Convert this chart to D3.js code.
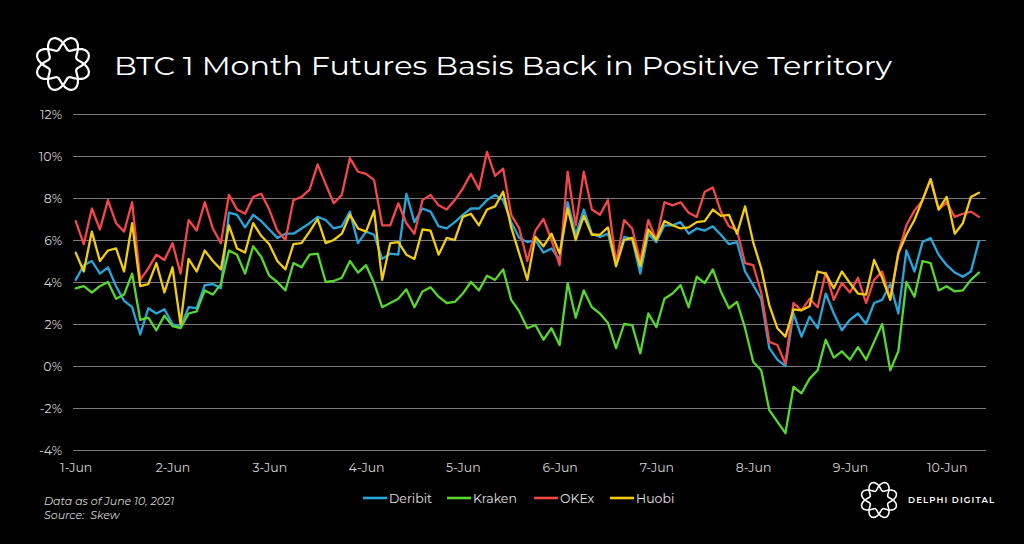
<!DOCTYPE html>
<html><head><meta charset="utf-8">
<script src="https://cdn.jsdelivr.net/npm/d3@7"></script>
<style>
html,body{margin:0;padding:0;background:#000;}
svg{display:block;}
</style></head>
<body>
<svg id="c" width="1024" height="544"></svg>
<script>
// ---- data (2-hour samples from 1-Jun 00:00) ----
const hoursStart = 0, hoursStep = 2;
const xTickLabels = ["1-Jun","2-Jun","3-Jun","4-Jun","5-Jun","6-Jun","7-Jun","8-Jun","9-Jun","10-Jun"];
const yTicks = [-4,-2,0,2,4,6,8,10,12];
const seriesNames = ["Deribit","Kraken","OKEx","Huobi"];
const seriesColors = ["#27a6dc","#58d72c","#f4474a","#f1cd0e"];

const deribit = [4.1,4.8,5.0,4.4,4.7,3.8,3.1,2.8,1.5,2.75,2.5,2.7,2.0,1.85,2.8,2.75,3.85,3.9,3.7,7.3,7.2,6.6,7.2,6.9,6.5,6.1,6.3,6.3,
6.55,6.8,7.1,6.95,6.55,6.65,7.35,5.85,6.4,6.25,5.1,5.35,5.3,8.2,6.85,7.5,7.35,6.65,6.55,6.85,7.2,7.5,7.5,7.9,8.15,7.9,6.85,6.1,5.9,
6.0,5.4,5.6,5.05,7.8,6.25,7.45,6.3,6.15,6.3,4.8,6.15,6.05,4.4,6.3,5.9,6.7,6.7,6.85,6.3,6.55,6.45,6.65,6.25,5.8,5.9,4.5,3.85,
3.2,0.85,0.3,0.0,2.5,1.4,2.35,1.8,3.45,2.5,1.7,2.2,2.5,2.0,3.0,3.15,3.9,2.5,5.5,4.5,5.9,6.1,5.3,4.8,4.45,4.25,4.5,5.95];

const kraken = [3.7,3.8,3.5,3.8,4.0,3.2,3.4,4.4,2.2,2.3,1.7,2.4,1.9,1.8,2.5,2.6,3.6,3.4,3.9,5.5,5.3,4.4,5.7,5.2,4.3,4.0,3.6,4.9,
4.7,5.3,5.35,4.0,4.05,4.2,5.0,4.45,4.8,3.95,2.8,3.0,3.2,3.65,2.8,3.55,3.75,3.3,3.0,3.05,3.45,4.0,3.6,4.3,4.1,4.6,3.15,2.6,1.8,
1.95,1.25,1.8,1.0,3.95,2.3,3.6,2.8,2.5,2.05,0.85,2.0,1.95,0.6,2.5,1.85,3.2,3.45,3.85,2.8,4.25,3.95,4.6,3.55,2.75,3.05,1.8,0.2,
-0.2,-2.1,-2.65,-3.2,-1.0,-1.3,-0.6,-0.2,1.25,0.4,0.7,0.3,0.9,0.3,1.15,2.0,-0.2,0.7,4.0,3.3,5.0,4.9,3.6,3.8,3.55,3.6,4.1,4.45];

const okex = [6.9,5.8,7.5,6.5,7.9,6.8,6.4,7.8,4.1,4.65,5.3,5.05,5.85,4.4,6.95,6.45,7.8,6.55,5.85,8.15,7.45,7.25,8.05,8.2,7.45,6.45,6.0,7.9,
8.05,8.4,9.6,8.65,7.75,8.15,9.9,9.25,9.15,8.85,6.7,6.7,7.75,6.8,6.3,7.9,8.15,7.65,7.45,7.9,8.45,9.15,8.4,10.2,9.05,9.4,7.2,6.55,5.0,
6.45,7.0,6.0,4.8,9.25,6.7,9.25,7.45,7.2,7.9,4.9,6.95,6.55,5.0,6.95,6.0,7.8,7.65,7.8,7.3,7.1,8.3,8.5,7.35,6.65,6.45,4.9,4.8,
3.5,1.15,1.0,0.1,3.0,2.65,3.2,2.8,4.45,3.15,3.95,3.5,4.2,3.0,4.1,4.5,3.2,5.4,6.7,7.4,7.9,8.9,7.45,7.8,7.1,7.25,7.35,7.1];

const huobi = [5.4,4.5,6.4,5.0,5.5,5.6,4.5,6.8,3.8,3.9,4.9,3.5,4.7,2.0,5.1,4.5,5.5,5.0,4.6,6.7,5.6,5.4,6.8,6.2,5.8,5.0,4.6,5.8,
5.85,6.4,7.0,5.85,6.0,6.3,7.2,6.55,6.4,7.4,4.1,5.85,5.9,5.3,5.1,6.5,6.45,5.3,6.1,6.0,7.1,7.25,6.7,7.45,7.6,8.3,6.6,5.35,4.1,
6.15,5.7,6.3,5.35,7.5,6.0,7.15,6.25,6.25,6.6,4.75,6.0,6.1,4.75,6.5,6.0,6.9,6.7,6.55,6.6,6.85,6.9,7.45,7.15,7.2,6.3,7.6,5.9,
4.65,2.9,1.8,1.4,2.7,2.65,2.85,4.5,4.4,3.7,4.5,3.95,3.45,3.4,5.05,4.2,3.15,5.35,6.25,6.95,7.9,8.9,7.45,8.05,6.3,6.8,8.05,8.25];

const seriesValues = [deribit, kraken, okex, huobi];

// ---- drawing ----
const svg = d3.select("#c");
svg.append("rect").attr("width",1024).attr("height",544).attr("fill","#000");

const x = d3.scaleLinear().domain([0, 216]).range([75.7, 946.7]);
const y = d3.scaleLinear().domain([-4, 12]).range([450, 114]);
const gridLeft = 73, gridRight = 986;
const font = "Montserrat, 'Open Sans', Lato, sans-serif";

// gridlines + y labels
const yAxis = d3.axisLeft(y).tickValues(yTicks).tickFormat(d => d + "%")
  .tickSize(-(gridRight - gridLeft)).tickPadding(11);
const gy = svg.append("g").attr("transform", `translate(${gridLeft},0)`).call(yAxis);
gy.select(".domain").remove();
gy.selectAll(".tick line").attr("stroke", "#7a7a7a").attr("stroke-width", 1.1);
gy.selectAll(".tick text").attr("fill", "#d4d4d4").attr("font-size", 12.5).attr("font-family", font);

// x labels
const xAxis = d3.axisBottom(x).tickValues(xTickLabels.map((d,i)=>i*24))
  .tickFormat((d,i)=>xTickLabels[i]).tickSize(0).tickPadding(13);
const gx = svg.append("g").attr("transform", `translate(0,${y(-4)})`).call(xAxis);
gx.select(".domain").remove();
gx.selectAll(".tick text").attr("fill", "#d4d4d4").attr("font-size", 12.5).attr("font-family", font);

// lines
const line = d3.line().x((d,i)=>x(hoursStart + i*hoursStep)).y(d=>y(d));
seriesValues.forEach((vals, si) => {
  svg.append("path").datum(vals).attr("d", line).attr("fill","none")
    .attr("stroke", seriesColors[si]).attr("stroke-width", 2.3)
    .attr("stroke-linejoin","round").attr("stroke-linecap","round");
});

// title
svg.append("text").attr("x",114).attr("y",75).attr("fill","#fff")
  .attr("font-family", font).attr("font-size", 27)
  .attr("textLength", 778).attr("lengthAdjust","spacingAndGlyphs")
  .text("BTC 1 Month Futures Basis Back in Positive Territory");

// logo helper
function logo(cx, cy, R, a, sw) {
  const g = svg.append("g").attr("transform", `translate(${cx},${cy})`);
  const n = 200;
  [0, Math.PI].forEach(ph => {
    const pts = d3.range(n).map(i => {
      const t = i / n * 2 * Math.PI;
      return [t, R + a * Math.sin(4 * t + ph)];
    });
    g.append("path").attr("d", d3.lineRadial().curve(d3.curveCardinalClosed)(pts))
      .attr("fill","none").attr("stroke","#fff").attr("stroke-width", sw);
  });
}
logo(63, 64, 21, 6.5, 2.2);
logo(879, 500, 14, 4.5, 1.6);

svg.append("text").attr("x",908).attr("y",503).attr("fill","#fff")
  .attr("font-family", font).attr("font-size", 8.5).attr("font-weight", 600)
  .attr("textLength", 86).attr("lengthAdjust","spacing")
  .text("DELPHI DIGITAL");

// legend
const legendX = [363, 447, 534, 610];
seriesNames.forEach((nm, i) => {
  svg.append("line").attr("x1", legendX[i]).attr("x2", legendX[i]+24)
    .attr("y1", 498).attr("y2", 498).attr("stroke", seriesColors[i]).attr("stroke-width", 2.6);
  svg.append("text").attr("x", legendX[i]+26).attr("y", 502.5).attr("fill","#e0e0e0")
    .attr("font-family", font).attr("font-size", 12.5).text(nm);
});

// footer
svg.append("text").attr("x",44).attr("y",505).attr("fill","#d4d4d4")
  .attr("font-family", font).attr("font-size", 11).attr("font-style","italic")
  .text("Data as of June 10, 2021");
svg.append("text").attr("x",44).attr("y",519).attr("fill","#d4d4d4")
  .attr("font-family", font).attr("font-size", 11).attr("font-style","italic")
  .attr("xml:space","preserve")
  .text("Source:  Skew");
</script>
</body></html>
